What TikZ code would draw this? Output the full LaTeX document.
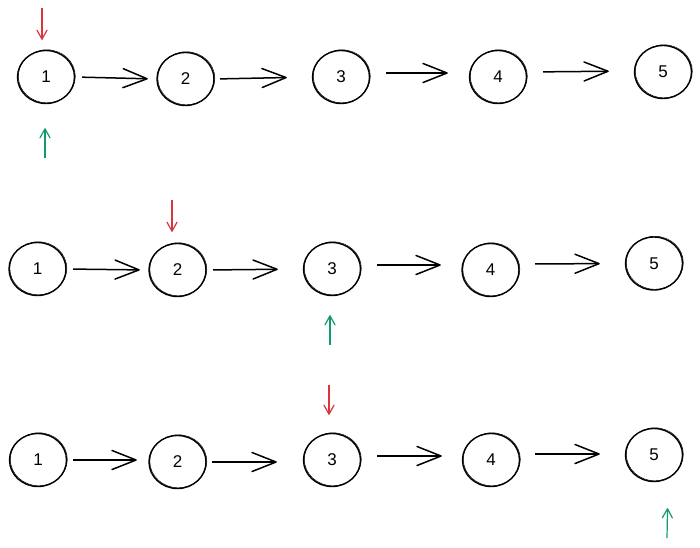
\documentclass[tikz,border=0pt]{standalone}
\usepackage{fontspec}
\setmainfont{Liberation Sans}
\usetikzlibrary{arrows.meta,shapes.geometric}
\definecolor{pred}{HTML}{D6363C}
\definecolor{pgreen}{HTML}{129A6A}
\begin{document}
\begin{tikzpicture}[x=1pt,y=-1pt,
  ball/.style={ellipse, draw, line width=1.4pt, minimum width=57pt, minimum height=53pt,
    inner sep=0pt, font=\fontsize{17}{17}\selectfont,
    postaction={draw, line width=0.5pt, transform canvas={xshift=0.8pt,yshift=0.7pt}}},
  conn/.style={line width=1.5pt, -{Straight Barb[length=24pt,width=19pt,round]}},
  redptr/.style={line width=1.2pt, pred, -{Straight Barb[length=9pt,width=10pt,round]}},
  greenptr/.style={line width=1.2pt, pgreen, -{Straight Barb[length=9pt,width=10pt,round]}}]
\useasboundingbox (0,0) rectangle (700,547);
\fill[white] (0,0) rectangle (700,547);

% row 1
\node[ball] (a1) at (46,77) {1};
\node[ball] (a2) at (185.5,79) {2};
\node[ball] (a3) at (341,77) {3};
\node[ball] (a4) at (498,77) {4};
\node[ball] (a5) at (663,72) {5};
\draw[conn, shorten <=7pt, shorten >=8.5pt] (a1.east) -- (a2.west);
\draw[conn, shorten <=5.5pt, shorten >=25pt] (a2.east) -- (a3.west);
\draw[conn, shorten <=16pt, shorten >=21pt] ([yshift=4pt]a3.east) -- ([yshift=4pt]a4.west);
\draw[conn, shorten <=16pt, shorten >=25pt] ([yshift=5pt]a4.east) -- ([yshift=1pt]a5.west);
\coordinate (r1) at (42,8);
\coordinate (g1) at (45,158);
\draw[redptr, shorten >=10pt] (r1) -- ([xshift=-4pt]a1.north);
\draw[greenptr, shorten >=24pt] (g1) -- ([xshift=-1pt]a1.south);

% row 2
\node[ball] (b1) at (37.5,269) {1};
\node[ball] (b2) at (177.5,270) {2};
\node[ball] (b3) at (332,269) {3};
\node[ball] (b4) at (490.5,270) {4};
\node[ball] (b5) at (654,263.5) {5};
\draw[conn, shorten <=6.5pt, shorten >=8.5pt] (b1.east) -- (b2.west);
\draw[conn, shorten <=6.5pt, shorten >=25pt] (b2.east) -- (b3.west);
\draw[conn, shorten <=16pt, shorten >=20.5pt] ([yshift=4pt]b3.east) -- ([yshift=5pt]b4.west);
\draw[conn, shorten <=15.5pt, shorten >=25pt] ([yshift=6pt]b4.east) -- (b5.west);
\coordinate (r2) at (172,200);
\coordinate (g2) at (330,345);
\draw[redptr, shorten >=11pt] (r2) -- ([xshift=-5.5pt]b2.north);
\draw[greenptr, shorten >=19pt] (g2) -- ([xshift=-2pt]b3.south);

% row 3
\node[ball] (c1) at (38,460) {1};
\node[ball] (c2) at (177.5,462) {2};
\node[ball] (c3) at (332,460) {3};
\node[ball] (c4) at (491,460) {4};
\node[ball] (c5) at (654,455) {5};
\draw[conn, shorten <=6pt, shorten >=11.5pt] (c1.east) -- ([yshift=2pt]c2.west);
\draw[conn, shorten <=5.5pt, shorten >=26pt] (c2.east) -- ([yshift=-2pt]c3.west);
\draw[conn, shorten <=16pt, shorten >=20pt] ([yshift=4pt]c3.east) -- ([yshift=4pt]c4.west);
\draw[conn, shorten <=15pt, shorten >=25pt] ([yshift=6pt]c4.east) -- ([yshift=1pt]c5.west);
\coordinate (r3) at (329,385);
\coordinate (g3) at (667,538);
\draw[redptr, shorten >=18pt] (r3) -- ([xshift=-3pt]c3.north);
\draw[greenptr, shorten >=26pt] (g3) -- ([xshift=14pt]c5.south);
\end{tikzpicture}
\end{document}
